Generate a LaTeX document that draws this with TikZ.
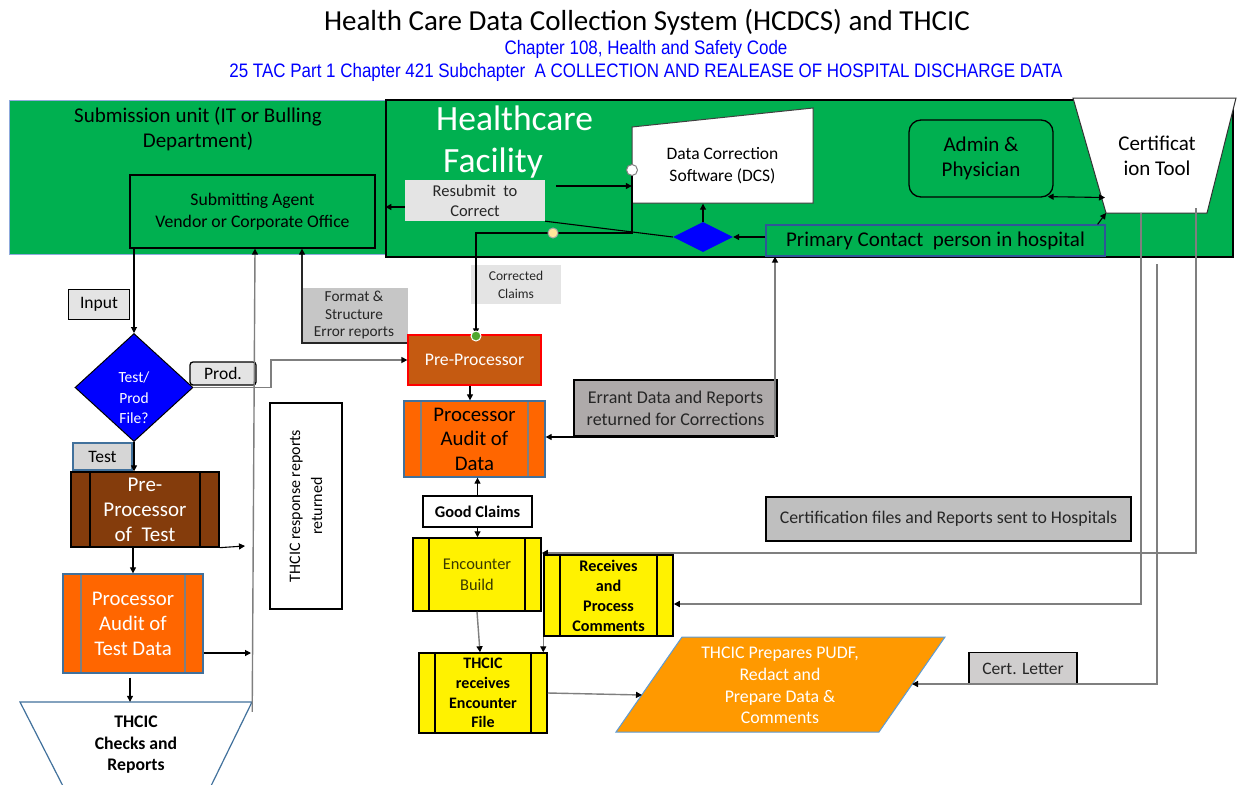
\documentclass[tikz,border=0pt]{standalone}
\usepackage{fontspec}
\setmainfont{Carlito}
\newfontfamily\narrowfont[FakeStretch=0.87]{Liberation Sans}
\usetikzlibrary{arrows.meta,shapes.geometric,calc}

\definecolor{hgreen}{HTML}{00B050}
\definecolor{subedge}{HTML}{8FAADC}
\definecolor{brownbox}{HTML}{843C0C}
\definecolor{orangebox}{HTML}{FF6600}
\definecolor{bluedge}{HTML}{41719C}
\definecolor{preproc}{HTML}{C55A11}
\definecolor{pudffill}{HTML}{FF9900}
\definecolor{pudfedge}{HTML}{5B9BD5}
\definecolor{lgray}{HTML}{E4E4E4}
\definecolor{mgray}{HTML}{D0CECE}
\definecolor{tgray}{HTML}{D6D6D6}
\definecolor{dgray}{HTML}{BFBFBF}
\definecolor{fgray}{HTML}{C6C6C6}
\definecolor{errgray}{HTML}{AEAAAA}
\definecolor{txtgray}{HTML}{262626}
\definecolor{linegray}{HTML}{7F7F7F}
\definecolor{contactedge}{HTML}{2F5597}
\definecolor{enctext}{HTML}{3A3A00}
\definecolor{ydot}{HTML}{FFE699}
\definecolor{gdot}{HTML}{4EA72E}

\newcommand\fsz[2]{\fontsize{#1}{#2}\selectfont}

\tikzset{
  arr/.style={-{Triangle[length=6pt,width=6pt,color=black]}},
  arrboth/.style={{Triangle[length=6pt,width=6pt]}-{Triangle[length=6pt,width=6pt]}},
  conn/.style={draw=black, line width=1.1pt},
  gline/.style={draw=linegray, line width=1.4pt},
  predef/.style 2 args={path picture={
    \draw[#2, line width=1.3pt] ([xshift=#1]path picture bounding box.north west) -- ([xshift=#1]path picture bounding box.south west);
    \draw[#2, line width=1.3pt] ([xshift=-#1]path picture bounding box.north east) -- ([xshift=-#1]path picture bounding box.south east);}},
  sized/.style 2 args={minimum width=#1, minimum height=#2},
}

\begin{document}
\begin{tikzpicture}[x=1pt,y=-1pt, every node/.style={inner sep=0pt, align=center}]
\useasboundingbox[fill=white] (0,0) rectangle (1238,784);

% ---------- headings
\node[font=\fsz{29}{33}] (title) at (647,22) {Health Care Data Collection System (HCDCS) and THCIC};
\node[text=blue, font=\narrowfont\fsz{19.5}{22}] (law1) at (646,49) {Chapter 108, Health and Safety Code};
\node[text=blue, font=\narrowfont\fsz{19.5}{22}] (law2) at (646,72) {25 TAC Part 1 Chapter 421 Subchapter\ \ A COLLECTION AND REALEASE OF HOSPITAL DISCHARGE DATA};

% ---------- green areas
\node[fill=hgreen, draw=subedge, line width=1pt, sized={378}{154}] (subunit) at (198,177) {};
\node[font=\fsz{21}{25}] (subtitle) at (198,129) {Submission unit (IT or Bulling\\Department)};
\node[fill=hgreen, draw=black, line width=1.2pt, sized={847}{157}] (hf) at (809.5,178.5) {};
\node[text=white, font=\fsz{35.5}{42}, align=left, anchor=west] (hftitle) at (436,142) {Healthcare\\\hspace*{7pt}Facility};

\node[draw=black, line width=1.3pt, sized={245}{73}, font=\fsz{17.7}{22}] (agent) at (252.5,211.5) {Submitting Agent\\Vendor or Corporate Office};

% data correction software (manual input shape)
\path[fill=white, draw=black!75, line width=1pt] (632,127) -- (813,108) -- (813,203) -- (632,203) -- cycle;
\node[sized={181}{75}, font=\fsz{17.5}{22}] (dcs) at (722.5,166) {Data Correction\\Software (DCS)};

\node[fill=lgray, sized={140}{41}, text=txtgray, font=\fsz{16.5}{20}] (resub) at (475,200.5) {Resubmit\ \ to\\Correct};
\node[diamond, fill=blue, sized={60}{30}] (hfdia) at (703,237) {};
\node[fill=hgreen, draw=contactedge, line width=1.2pt, sized={339}{31}, font=\fsz{21}{24}] (contact) at (935.5,240.5) {Primary Contact\ \ person in hospital};
\node[draw=black, line width=1.3pt, rounded corners=12pt, sized={144}{77}, font=\fsz{21}{25}] (admin) at (981,158.5) {Admin \&\\Physician};

% certification tool (trapezium)
\path[fill=white, draw=black!80, line width=1pt] (1073,98) -- (1236,98) -- (1207,213) -- (1106,213) -- cycle;
\node[sized={101}{115}, font=\fsz{21}{25}] (cert) at (1157,155.5) {Certificat\\ion Tool};

% ---------- test path (left column)
\node[fill=lgray, draw=black, line width=1.3pt, sized={61}{30}, font=\fsz{17.5}{20}] (input) at (99,304.5) {Input};
\node[diamond, fill=blue, draw=black, line width=1pt, sized={118}{108}] (tp) at (134,387.5) {};
\node[text=white, font=\fsz{15.5}{20.5}] (tptext) at (134,398) {Test/\\Prod\\File?};
\node[fill=lgray, draw=black, line width=1.3pt, rounded corners=3pt, sized={66}{23}, font=\fsz{17.5}{20}] (prod) at (223,373.5) {Prod.};
\node[fill=tgray, draw=bluedge, line width=1.3pt, sized={59}{27}, font=\fsz{17.5}{20}] (test) at (102.5,456.5) {Test};
\node[fill=brownbox, draw=black, line width=1.3pt, predef={19}{black}, sized={148}{75}, text=white, font=\fsz{21}{25}] (tpre) at (145,509.5) {Pre-\\Processor\\of\ \ Test};
\node[fill=orangebox, draw=bluedge, line width=1.3pt, predef={18}{linegray}, sized={140}{99}, text=white, font=\fsz{20.8}{25}] (ptest) at (133,623.5) {Processor\\Audit of\\Test Data};

% THCIC checks (inverted trapezium running off the bottom)
\path[fill=white, draw=bluedge, line width=1.2pt] (65,790) -- (20,702) -- (252,702) -- (209,790);
\node[sized={232}{86}, font=\bfseries\fsz{17.7}{21.5}] (checks) at (136,745) {THCIC\\Checks and\\Reports};

\node[draw=black, line width=1.3pt, sized={72}{206}] (resp) at (306,506) {};
\node[rotate=90, font=\fsz{16}{22}] (resptext) at (306,506) {THCIC response reports\\returned};

% ---------- production path (middle column)
\node[fill=fgray, sized={107}{55}, text=txtgray, font=\fsz{15.3}{17.5}] (fmt) at (354,315.5) {Format \&\\Structure\\Error reports};
\node[fill=lgray, sized={90}{39}, text=txtgray, font=\fsz{13.5}{18}] (corr) at (516,284.5) {Corrected\\Claims};
\node[fill=preproc, draw=red, line width=1.3pt, sized={133}{50}, text=white, font=\fsz{17.7}{20}] (pre) at (474.5,360) {Pre-Processor};
\node[fill=orangebox, draw=bluedge, line width=1.3pt, predef={17}{linegray}, sized={141}{76}, font=\fsz{20.8}{24.5}] (proc) at (474.5,439) {Processor\\Audit of\\Data};
\node[fill=errgray, draw=black, line width=1.6pt, sized={203}{56}, text=txtgray, font=\fsz{18}{22}] (errant) at (675.5,408) {Errant Data and Reports\\returned for Corrections};
\node[draw=black, line width=1.3pt, sized={109}{31}, font=\bfseries\fsz{16.4}{18}] (good) at (477.5,511.5) {Good Claims};
\node[fill=yellow, draw=black, line width=1.5pt, predef={16}{black}, sized={128}{73}, text=enctext, font=\fsz{16.4}{21}] (enc) at (477,574.5) {Encounter\\Build};
\node[fill=yellow, draw=black, line width=1.5pt, predef={16}{black}, sized={129}{81}, font=\bfseries\fsz{16.2}{20}] (recv) at (608.5,595.5) {Receives\\and\\Process\\Comments};
\node[fill=yellow, draw=black, line width=1.5pt, predef={16}{black}, sized={128}{80}, font=\bfseries\fsz{16}{19.7}] (recvf) at (483,693) {THCIC\\receives\\Encounter\\File};

% PUDF preparation (parallelogram)
\path[fill=pudffill, draw=pudfedge, line width=1pt] (682,637) -- (945,637) -- (879,732) -- (616,732) -- cycle;
\node[text=white, font=\fsz{17.8}{21.7}] (pudf) at (780,685.5) {THCIC Prepares PUDF,\\Redact and\\Prepare Data \&\\Comments};
\coordinate (pudfL) at (642,695);
\coordinate (pudfR) at (912,684);

% ---------- right side labels
\node[fill=dgray, draw=black, line width=2pt, sized={365}{44}, text=txtgray, font=\fsz{17.8}{20}] (certfiles) at (948.5,519) {Certification files and Reports sent to Hospitals};
\node[fill=mgray, draw=black, line width=1.6pt, sized={108}{32}, text=txtgray, font=\fsz{17.5}{20}] (certletter) at (1023,668.5) {Cert. Letter};

% ---------- connectors
% submission unit to test/prod decision
\draw[conn, arr] (tp.north |- agent.south) -- (tp.north);
\draw[conn, arr] (tp.south) -- (tp.south |- tpre.north);
\draw[conn, arr] (ptest.north |- tpre.south) -- (ptest.north);
\draw[conn, arr, shorten <=4pt] (ptest.south -| 130,0) -- (checks.north -| 130,0);
\draw[conn, arr] (tpre.south east) -- (245,546);
\draw[conn, arr] (ptest.east |- 0,653) -- (251,653);
\draw[gline, arr] (checks.north east) -- ++(0,10) -- (agent.south -| 255,0);
\draw[gline, arr] (tp.east) -- (271,387.5) |- (pre.west);
\draw[draw=black!85, line width=1.2pt, arr] (pre.west |- 0,343) -| (agent.south -| 302,0);

% healthcare facility internals
\draw[conn, arr] (632,170) -- (632,233) -| (pre.north -| 476,0);
\draw[conn, arr] (556,186) -- (dcs.west |- 0,186);
\draw[conn] (hfdia.west) -- (resub.south east);
\draw[conn, arr] (resub.west |- 0,207) -- (hf.west |- 0,207);
\draw[conn, arr] (hfdia.north) -- (hfdia.north |- dcs.south);
\draw[conn, arr] (contact.west |- hfdia.east) -- (hfdia.east);
\draw[conn, arrboth] ($(admin.south east)+(-6,-1)$) -- (1105,197.5);
\draw[conn, arr] ($(contact.north east)+(-8,0)$) -- (1106,213);

% certification tool outputs
\draw[gline, arr] (1141,213) -- (1141,604) -- (recv.east |- 0,604);
\draw[gline, arr] (1196,208) -- (1196,553) -- (enc.east |- 0,553);
\draw[gline, arr] (1157,264) -- (1157,684) -- (pudfR);

% production processing
\draw[conn, arr] (pre.south -| 470,0) -- (proc.north -| 470,0);
\coordinate (ecorner) at (775,437);
\draw[conn, arr] (ecorner) -- (proc.east |- ecorner);
\draw[gline, arr] (ecorner) -- (ecorner |- contact.south);
\draw[conn, arr] (good.north) -- (good.north |- proc.south);
\draw[conn, arr] (good.south) -- (good.south |- enc.north);
\draw[gline, arr] (enc.south) -- (recvf.north -| 480,0);
\draw[gline, arr] (recv.south west) -- (recv.south west |- recvf.north);
\draw[gline, arr] (recvf.east |- 0,693) -- (pudfL);

% connection dots
\node[circle, fill=white, draw=gray, line width=1pt, minimum size=11pt] (wdot) at (632,170) {};
\node[circle, fill=ydot, draw=gray!70, line width=1pt, minimum size=10pt] (yd) at (553,233) {};
\node[circle, fill=gdot, draw=white, line width=1pt, minimum size=10pt] (gd) at (476,336) {};
\end{tikzpicture}
\end{document}
